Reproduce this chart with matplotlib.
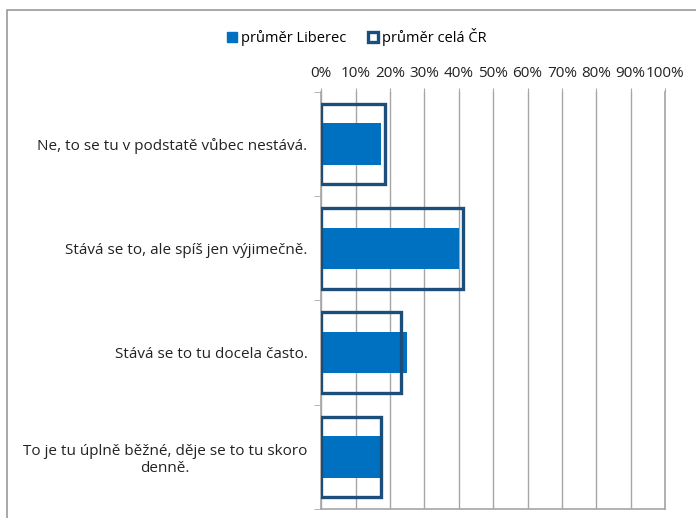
import matplotlib
matplotlib.use('Agg')
import matplotlib.pyplot as plt
from matplotlib.patches import Patch, Rectangle

plt.rcParams['font.family'] = ['Open Sans', 'DejaVu Sans']

# data (share of answers, %)
categories = [
    "Ne, to se tu v podstatě vůbec nestává.",
    "Stává se to, ale spíš jen výjimečně.",
    "Stává se to tu docela často.",
    "To je tu úplně běžné, děje se to tu skoro\ndenně.",
]
liberec = [17.4, 40.1, 25.0, 17.1]
cr = [18.5, 41.3, 23.1, 17.5]
x_ticks = list(range(0, 101, 10))

BLUE = '#0070C0'
NAVY = '#1B4E7A'
GRID = '#A6A6A6'

fig = plt.figure(figsize=(6.96, 5.18), dpi=100)
ax = fig.add_axes([0.4617, 0.0174, 0.9555 - 0.4617, 0.8224 - 0.0174])

pos = list(range(len(categories)))
ax.barh(pos, liberec, height=0.40, color=BLUE, zorder=2)
ax.barh(pos, cr, height=0.77, facecolor='none', edgecolor=NAVY, linewidth=2.4, zorder=3)

ax.set_xlim(0, 100)
ax.set_ylim(len(categories) - 0.5, -0.5)
ax.xaxis.tick_top()
ax.set_xticks(x_ticks)
ax.set_xticklabels([f"{t}%" for t in x_ticks], fontsize=11, color='#222222')
ax.tick_params(axis='x', length=3, color=GRID, pad=5)
ax.set_yticks(pos)
ax.set_yticklabels(categories, fontsize=11, color='#222222', multialignment='center')
ax.set_yticks([p - 0.5 for p in pos] + [len(categories) - 0.5], minor=True)
ax.tick_params(axis='y', which='major', length=0, pad=10)
ax.tick_params(axis='y', which='minor', length=5, color=GRID)
ax.grid(axis='x', color=GRID, linewidth=1.0, zorder=0)
ax.set_axisbelow(True)

ax.spines['top'].set_visible(False)
for s in ['left', 'bottom', 'right']:
    ax.spines[s].set_color(GRID)
    ax.spines[s].set_linewidth(1.2)

handles = [
    Patch(facecolor=BLUE, edgecolor=BLUE, label='průměr Liberec'),
    Patch(facecolor='white', edgecolor=NAVY, linewidth=2.4, label='průměr celá ČR'),
]
fig.legend(handles=handles, loc='center', bbox_to_anchor=(357 / 696, 1 - 37 / 518),
           ncol=2, frameon=False, fontsize=10.5, handlelength=0.65, handleheight=0.65,
           handletextpad=0.3, columnspacing=1.5)

# outer chart border
fig.patches.append(Rectangle((7 / 696, -0.1), 1.2, 1 - 10 / 518 + 0.1, transform=fig.transFigure,
                             facecolor='none', edgecolor='#9A9A9A', linewidth=1.2))

fig.savefig('out.png', dpi=100)
